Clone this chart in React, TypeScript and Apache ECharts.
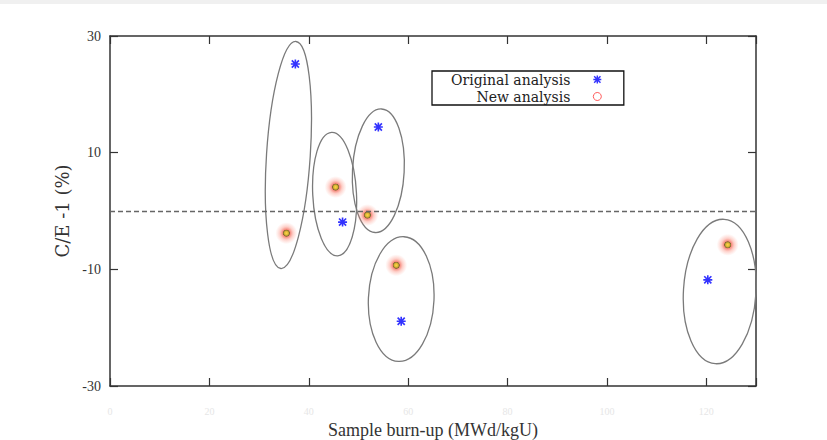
import React, { useEffect, useRef } from "react";
import * as echarts from "echarts";

const xTicks = [0, 20, 40, 60, 80, 100, 120];
const yTicks = [-30, -10, 10, 30];

const originalX = [37.3, 46.8, 54.0, 58.6, 120.3];
const originalY = [25.2, -1.9, 14.4, -18.9, -11.8];

const newX = [35.5, 45.4, 51.8, 57.6, 124.3];
const newY = [-3.8, 4.1, -0.7, -9.3, -5.8];

// ellipse: centre x, centre y, half-width (x units), half-height (y units), lean (deg, clockwise)
const ellipseCX = [35.9, 45.2, 54.0, 58.6, 122.7];
const ellipseCY = [9.6, 2.9, 6.9, -15.1, -13.8];
const ellipseRX = [4.4, 4.4, 5.2, 6.6, 7.3];
const ellipseRY = [19.5, 10.6, 10.6, 10.7, 12.4];
const ellipseLean = [3.8, -2.8, 3.0, 2.5, 3.5];

const ASTERISK =
  "path://M0,4.1L10,4.1L10,5.9L0,5.9Z M4.1,0L5.9,0L5.9,10L4.1,10Z M0.4,1.7L1.7,0.4L9.6,8.3L8.3,9.6Z M8.3,0.4L9.6,1.7L1.7,9.6L0.4,8.3Z";

const FONT = "Liberation Serif";

export default function App() {
  const ref = useRef<HTMLDivElement>(null);
  useEffect(() => {
    if (!ref.current) return;
    const chart = echarts.init(ref.current, undefined, { renderer: "svg" });
    const axisLine = { show: true, onZero: false, lineStyle: { color: "#333", width: 1.5 } };
    const tick = { inside: true, length: 8, lineStyle: { color: "#333", width: 1.2 } };
    chart.setOption({
      animation: false,
      backgroundColor: "#ffffff",
      textStyle: { fontFamily: FONT },
      graphic: [
        { type: "rect", left: 0, top: 0, shape: { width: 827, height: 4 }, style: { fill: "#f0f0f0" }, silent: true },
      ],
      grid: { left: 110, right: 71, top: 36, bottom: 54, outerBoundsMode: "none", containLabel: false },
      legend: {
        orient: "vertical",
        align: "right",
        left: 432,
        top: 71,
        padding: [0, 22, 0, 19],
        itemGap: 0,
        itemWidth: 8,
        itemHeight: 8,
        borderColor: "#111",
        borderWidth: 1.3,
        borderRadius: 0,
        textStyle: { fontFamily: "DejaVu Serif", fontSize: 14, color: "#222", padding: [0, 18, 0, 0], lineHeight: 17 },
        data: [
          { name: "Original analysis", icon: ASTERISK, itemStyle: { color: "#0000ff" } },
          { name: "New analysis", icon: "circle", itemStyle: { color: "#ffffff", borderColor: "#ff3030", borderWidth: 1 } },
        ],
      },
      xAxis: [
        {
          type: "value",
          min: 0,
          max: 130,
          interval: 20,
          position: "bottom",
          name: "Sample burn-up (MWd/kgU)",
          nameLocation: "middle",
          nameGap: 36,
          nameTextStyle: { fontFamily: FONT, fontSize: 18, color: "#333", verticalAlign: "middle", lineHeight: 18 },
          axisLine,
          axisTick: tick,
          splitLine: { show: false },
          axisLabel: { color: "#e6e6e6", fontSize: 10, margin: 20, fontFamily: FONT, customValues: xTicks },
        },
        {
          type: "value",
          min: 0,
          max: 130,
          interval: 20,
          position: "top",
          axisLine,
          axisTick: tick,
          splitLine: { show: false },
          axisLabel: { show: false },
        },
      ],
      yAxis: [
        {
          type: "value",
          min: -30,
          max: 30,
          position: "left",
          name: "C/E -1 (%)",
          nameLocation: "middle",
          nameGap: 36,
          nameTextStyle: { fontFamily: "DejaVu Serif", fontSize: 18, color: "#333" },
          axisLine,
          axisTick: { ...tick, customValues: yTicks },
          axisLabel: { customValues: yTicks, color: "#333", fontSize: 14, margin: 9, fontFamily: FONT },
          splitLine: { show: false },
        },
        {
          type: "value",
          min: -30,
          max: 30,
          position: "right",
          axisLine,
          axisTick: { ...tick, customValues: yTicks },
          axisLabel: { show: false },
          splitLine: { show: false },
        },
      ],
      series: [
        {
          type: "custom",
          name: "ellipses",
          silent: true,
          clip: false,
          data: ellipseCX.map((x, i) => [x, ellipseCY[i], ellipseRX[i], ellipseRY[i], ellipseLean[i]]),
          renderItem: (params: any, api: any) => {
            const c = api.coord([api.value(0), api.value(1)]);
            const s = api.size([api.value(2), api.value(3)]);
            return {
              type: "ellipse",
              x: c[0],
              y: c[1],
              rotation: (-api.value(4) * Math.PI) / 180,
              shape: { cx: 0, cy: 0, rx: s[0], ry: s[1] },
              style: { fill: "none", stroke: "#7a7a7a", lineWidth: 1.3 },
            };
          },
          markLine: {
            silent: true,
            symbol: "none",
            label: { show: false },
            lineStyle: { color: "#666", type: [5, 3], width: 1.3 },
            data: [{ yAxis: 0 }],
          },
          z: 1,
        },
        {
          type: "scatter",
          name: "Original analysis",
          symbol: ASTERISK,
          symbolSize: 9,
          itemStyle: { color: "#0000ff" },
          data: originalX.map((x, i) => [x, originalY[i]]),
          z: 3,
        },
        {
          type: "scatter",
          name: "New analysis",
          symbol: "circle",
          symbolSize: 22,
          itemStyle: {
            color: new echarts.graphic.RadialGradient(0.5, 0.5, 0.5, [
              { offset: 0, color: "#ffd21a" },
              { offset: 0.18, color: "#d0a000" },
              { offset: 0.29, color: "#5e4400" },
              { offset: 0.34, color: "rgba(240,70,50,0.8)" },
              { offset: 0.6, color: "rgba(250,110,90,0.4)" },
              { offset: 1, color: "rgba(255,140,120,0)" },
            ]),
          },
          data: newX.map((x, i) => [x, newY[i]]),
          z: 3,
        },
      ],
    });
    return () => chart.dispose();
  }, []);
  return (
    <div
      ref={ref}
      style={{ position: "fixed", left: 0, top: 0, width: 827, height: 440 }}
    />
  );
}
